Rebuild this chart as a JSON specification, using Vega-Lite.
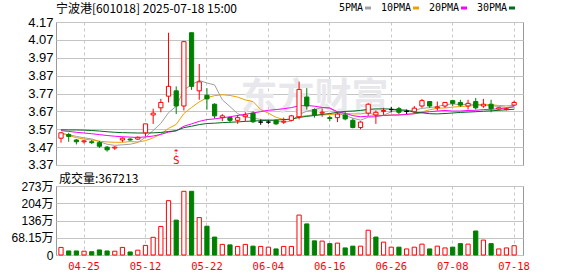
{
  "$schema": "https://vega.github.io/schema/vega-lite/v6.json",
  "padding": {"left": 0, "top": 2, "right": 0, "bottom": 0},
  "background": "white",
  "spacing": 21,
  "bounds": "flush",
  "config": {
    "view": {"stroke": "#999999", "strokeWidth": 1},
    "axis": {"gridColor": "#c4c4c4", "gridWidth": 1, "ticks": false, "domain": false, "labelColor": "#000000", "labelOverlap": false},
    "title": {"fontWeight": "normal", "color": "#000000", "font": "Noto Sans CJK SC", "fontSize": 12, "frame": "group"},
    "font": "Noto Sans CJK SC"
  },
  "datasets": {
    "k": [
      {"d": "04-22", "o": 3.52, "h": 3.552, "l": 3.495, "c": 3.55, "v": 30, "vc": "r", "m5": 3.545, "m10": 3.551, "m20": 3.562, "m30": 3.567},
      {"d": "04-23", "o": 3.54, "h": 3.55, "l": 3.5, "c": 3.53, "v": 16, "vc": "g", "m5": 3.54, "m10": 3.535, "m20": 3.558, "m30": 3.566},
      {"d": "04-24", "o": 3.51, "h": 3.515, "l": 3.485, "c": 3.5, "v": 16, "vc": "g", "m5": 3.53, "m10": 3.523, "m20": 3.553, "m30": 3.566},
      {"d": "04-25", "o": 3.5, "h": 3.51, "l": 3.49, "c": 3.505, "v": 15, "vc": "r", "m5": 3.522, "m10": 3.515, "m20": 3.549, "m30": 3.565},
      {"d": "04-28", "o": 3.5, "h": 3.51, "l": 3.488, "c": 3.495, "v": 13, "vc": "g", "m5": 3.516, "m10": 3.51, "m20": 3.545, "m30": 3.563},
      {"d": "04-29", "o": 3.495, "h": 3.505, "l": 3.465, "c": 3.475, "v": 20, "vc": "g", "m5": 3.501, "m10": 3.503, "m20": 3.54, "m30": 3.56},
      {"d": "04-30", "o": 3.47, "h": 3.476, "l": 3.445, "c": 3.455, "v": 16, "vc": "g", "m5": 3.486, "m10": 3.499, "m20": 3.535, "m30": 3.556},
      {"d": "05-06", "o": 3.465, "h": 3.475, "l": 3.455, "c": 3.47, "v": 15, "vc": "r", "m5": 3.48, "m10": 3.497, "m20": 3.531, "m30": 3.553},
      {"d": "05-07", "o": 3.51, "h": 3.525, "l": 3.498, "c": 3.52, "v": 30, "vc": "r", "m5": 3.483, "m10": 3.497, "m20": 3.528, "m30": 3.551},
      {"d": "05-08", "o": 3.515, "h": 3.52, "l": 3.505, "c": 3.51, "v": 12, "vc": "g", "m5": 3.486, "m10": 3.501, "m20": 3.526, "m30": 3.55},
      {"d": "05-09", "o": 3.515, "h": 3.53, "l": 3.51, "c": 3.525, "v": 19, "vc": "r", "m5": 3.496, "m10": 3.499, "m20": 3.524, "m30": 3.549},
      {"d": "05-12", "o": 3.55, "h": 3.6, "l": 3.53, "c": 3.6, "v": 38, "vc": "r", "m5": 3.525, "m10": 3.506, "m20": 3.527, "m30": 3.549},
      {"d": "05-13", "o": 3.65, "h": 3.685, "l": 3.6, "c": 3.66, "v": 70, "vc": "r", "m5": 3.563, "m10": 3.522, "m20": 3.532, "m30": 3.55},
      {"d": "05-14", "o": 3.69, "h": 3.74, "l": 3.665, "c": 3.72, "v": 113, "vc": "r", "m5": 3.603, "m10": 3.543, "m20": 3.541, "m30": 3.552},
      {"d": "05-15", "o": 3.755, "h": 4.11, "l": 3.72, "c": 3.81, "v": 215, "vc": "r", "m5": 3.663, "m10": 3.575, "m20": 3.554, "m30": 3.557},
      {"d": "05-16", "o": 3.785, "h": 3.81, "l": 3.655, "c": 3.7, "v": 138, "vc": "g", "m5": 3.698, "m10": 3.597, "m20": 3.561, "m30": 3.562},
      {"d": "05-19", "o": 3.7, "h": 4.065, "l": 3.675, "c": 4.06, "v": 252, "vc": "r", "m5": 3.79, "m10": 3.658, "m20": 3.587, "m30": 3.579},
      {"d": "05-20", "o": 4.11, "h": 4.11, "l": 3.79, "c": 3.81, "v": 252, "vc": "g", "m5": 3.82, "m10": 3.692, "m20": 3.6, "m30": 3.587},
      {"d": "05-21", "o": 3.785, "h": 3.935, "l": 3.735, "c": 3.835, "v": 148, "vc": "r", "m5": 3.843, "m10": 3.723, "m20": 3.614, "m30": 3.596},
      {"d": "05-22", "o": 3.76, "h": 3.8, "l": 3.68, "c": 3.74, "v": 114, "vc": "g", "m5": 3.829, "m10": 3.746, "m20": 3.624, "m30": 3.602},
      {"d": "05-23", "o": 3.71, "h": 3.715, "l": 3.63, "c": 3.645, "v": 71, "vc": "g", "m5": 3.818, "m10": 3.758, "m20": 3.628, "m30": 3.604},
      {"d": "05-26", "o": 3.635, "h": 3.655, "l": 3.615, "c": 3.645, "v": 42, "vc": "r", "m5": 3.735, "m10": 3.763, "m20": 3.634, "m30": 3.607},
      {"d": "05-27", "o": 3.635, "h": 3.64, "l": 3.608, "c": 3.62, "v": 40, "vc": "g", "m5": 3.697, "m10": 3.759, "m20": 3.64, "m30": 3.609},
      {"d": "05-28", "o": 3.62, "h": 3.65, "l": 3.6, "c": 3.635, "v": 34, "vc": "r", "m5": 3.657, "m10": 3.75, "m20": 3.647, "m30": 3.611},
      {"d": "05-29", "o": 3.64, "h": 3.665, "l": 3.615, "c": 3.65, "v": 42, "vc": "r", "m5": 3.639, "m10": 3.734, "m20": 3.654, "m30": 3.614},
      {"d": "05-30", "o": 3.66, "h": 3.67, "l": 3.605, "c": 3.612, "v": 35, "vc": "g", "m5": 3.632, "m10": 3.725, "m20": 3.661, "m30": 3.616},
      {"d": "06-03", "o": 3.61, "h": 3.625, "l": 3.595, "c": 3.61, "v": 34, "vc": "r", "m5": 3.625, "m10": 3.68, "m20": 3.669, "m30": 3.618},
      {"d": "06-04", "o": 3.61, "h": 3.62, "l": 3.6, "c": 3.61, "v": 31, "vc": "r", "m5": 3.623, "m10": 3.66, "m20": 3.676, "m30": 3.62},
      {"d": "06-05", "o": 3.62, "h": 3.625, "l": 3.595, "c": 3.6, "v": 24, "vc": "g", "m5": 3.616, "m10": 3.637, "m20": 3.68, "m30": 3.622},
      {"d": "06-06", "o": 3.61, "h": 3.635, "l": 3.6, "c": 3.615, "v": 34, "vc": "r", "m5": 3.609, "m10": 3.624, "m20": 3.685, "m30": 3.624},
      {"d": "06-09", "o": 3.62, "h": 3.65, "l": 3.615, "c": 3.645, "v": 34, "vc": "r", "m5": 3.616, "m10": 3.624, "m20": 3.691, "m30": 3.627},
      {"d": "06-10", "o": 3.64, "h": 3.836, "l": 3.625, "c": 3.793, "v": 158, "vc": "r", "m5": 3.653, "m10": 3.639, "m20": 3.701, "m30": 3.636},
      {"d": "06-11", "o": 3.75, "h": 3.8, "l": 3.68, "c": 3.7, "v": 123, "vc": "g", "m5": 3.671, "m10": 3.647, "m20": 3.703, "m30": 3.642},
      {"d": "06-12", "o": 3.68, "h": 3.687, "l": 3.635, "c": 3.65, "v": 56, "vc": "g", "m5": 3.681, "m10": 3.649, "m20": 3.699, "m30": 3.647},
      {"d": "06-13", "o": 3.66, "h": 3.686, "l": 3.64, "c": 3.665, "v": 55, "vc": "r", "m5": 3.691, "m10": 3.65, "m20": 3.692, "m30": 3.653},
      {"d": "06-16", "o": 3.635, "h": 3.645, "l": 3.615, "c": 3.63, "v": 45, "vc": "g", "m5": 3.688, "m10": 3.652, "m20": 3.689, "m30": 3.658},
      {"d": "06-17", "o": 3.635, "h": 3.665, "l": 3.61, "c": 3.655, "v": 47, "vc": "r", "m5": 3.66, "m10": 3.656, "m20": 3.668, "m30": 3.665},
      {"d": "06-18", "o": 3.65, "h": 3.67, "l": 3.62, "c": 3.628, "v": 28, "vc": "g", "m5": 3.646, "m10": 3.658, "m20": 3.659, "m30": 3.67},
      {"d": "06-19", "o": 3.62, "h": 3.63, "l": 3.575, "c": 3.58, "v": 35, "vc": "g", "m5": 3.632, "m10": 3.656, "m20": 3.646, "m30": 3.672},
      {"d": "06-20", "o": 3.58, "h": 3.615, "l": 3.57, "c": 3.61, "v": 35, "vc": "r", "m5": 3.621, "m10": 3.656, "m20": 3.64, "m30": 3.675},
      {"d": "06-23", "o": 3.66, "h": 3.715, "l": 3.645, "c": 3.71, "v": 98, "vc": "r", "m5": 3.637, "m10": 3.662, "m20": 3.643, "m30": 3.681},
      {"d": "06-24", "o": 3.65, "h": 3.675, "l": 3.6, "c": 3.665, "v": 71, "vc": "g", "m5": 3.639, "m10": 3.649, "m20": 3.644, "m30": 3.684},
      {"d": "06-25", "o": 3.67, "h": 3.69, "l": 3.65, "c": 3.675, "v": 51, "vc": "r", "m5": 3.648, "m10": 3.647, "m20": 3.647, "m30": 3.684},
      {"d": "06-26", "o": 3.68, "h": 3.695, "l": 3.665, "c": 3.68, "v": 31, "vc": "r", "m5": 3.668, "m10": 3.65, "m20": 3.649, "m30": 3.683},
      {"d": "06-27", "o": 3.685, "h": 3.695, "l": 3.655, "c": 3.665, "v": 31, "vc": "g", "m5": 3.679, "m10": 3.65, "m20": 3.65, "m30": 3.678},
      {"d": "06-30", "o": 3.67, "h": 3.68, "l": 3.655, "c": 3.67, "v": 24, "vc": "r", "m5": 3.671, "m10": 3.654, "m20": 3.653, "m30": 3.677},
      {"d": "07-01", "o": 3.668, "h": 3.7, "l": 3.66, "c": 3.688, "v": 31, "vc": "r", "m5": 3.676, "m10": 3.657, "m20": 3.657, "m30": 3.665},
      {"d": "07-02", "o": 3.7, "h": 3.74, "l": 3.69, "c": 3.73, "v": 43, "vc": "r", "m5": 3.687, "m10": 3.667, "m20": 3.663, "m30": 3.662},
      {"d": "07-03", "o": 3.725, "h": 3.728, "l": 3.69, "c": 3.7, "v": 24, "vc": "g", "m5": 3.691, "m10": 3.679, "m20": 3.668, "m30": 3.657},
      {"d": "07-04", "o": 3.69, "h": 3.725, "l": 3.675, "c": 3.695, "v": 35, "vc": "r", "m5": 3.697, "m10": 3.688, "m20": 3.672, "m30": 3.656},
      {"d": "07-07", "o": 3.7, "h": 3.722, "l": 3.69, "c": 3.72, "v": 28, "vc": "r", "m5": 3.707, "m10": 3.689, "m20": 3.675, "m30": 3.658},
      {"d": "07-08", "o": 3.73, "h": 3.735, "l": 3.7, "c": 3.715, "v": 31, "vc": "g", "m5": 3.712, "m10": 3.694, "m20": 3.672, "m30": 3.661},
      {"d": "07-09", "o": 3.72, "h": 3.735, "l": 3.695, "c": 3.705, "v": 45, "vc": "g", "m5": 3.707, "m10": 3.697, "m20": 3.672, "m30": 3.664},
      {"d": "07-10", "o": 3.7, "h": 3.735, "l": 3.68, "c": 3.715, "v": 43, "vc": "r", "m5": 3.71, "m10": 3.7, "m20": 3.675, "m30": 3.666},
      {"d": "07-11", "o": 3.725, "h": 3.745, "l": 3.68, "c": 3.69, "v": 95, "vc": "g", "m5": 3.709, "m10": 3.703, "m20": 3.676, "m30": 3.668},
      {"d": "07-14", "o": 3.7, "h": 3.74, "l": 3.69, "c": 3.71, "v": 59, "vc": "r", "m5": 3.707, "m10": 3.707, "m20": 3.68, "m30": 3.671},
      {"d": "07-15", "o": 3.71, "h": 3.735, "l": 3.665, "c": 3.685, "v": 45, "vc": "g", "m5": 3.701, "m10": 3.707, "m20": 3.682, "m30": 3.673},
      {"d": "07-16", "o": 3.683, "h": 3.695, "l": 3.675, "c": 3.69, "v": 24, "vc": "r", "m5": 3.698, "m10": 3.703, "m20": 3.685, "m30": 3.676},
      {"d": "07-17", "o": 3.68, "h": 3.69, "l": 3.675, "c": 3.685, "v": 28, "vc": "r", "m5": 3.692, "m10": 3.701, "m20": 3.689, "m30": 3.679},
      {"d": "07-18", "o": 3.705, "h": 3.73, "l": 3.7, "c": 3.72, "v": 36.72, "vc": "r", "m5": 3.698, "m10": 3.704, "m20": 3.695, "m30": 3.682}
    ]
  },
  "vconcat": [
    {
      "width": 467,
      "height": 143,
      "data": {"name": "k"},
      "title": {"text": "宁波港[601018] 2025-07-18 15:00", "anchor": "start", "offset": -5, "baseline": "middle"},
      "encoding": {
        "x": {
          "field": "d", "type": "ordinal",
          "scale": {"paddingInner": 0.45, "paddingOuter": 0.6285, "align": 0.3},
          "axis": {"title": null, "labels": false, "grid": true, "gridDash": [3, 3], "gridColor": "#c8c8c8", "bandPosition": 0.5,
                   "values": ["04-25", "05-12", "05-22", "06-04", "06-16", "06-26", "07-08", "07-18"]}
        }
      },
      "layer": [
        {
          "data": {"values": [{"w": "东方财富"}]},
          "mark": {"type": "text", "fontSize": 37, "fontWeight": "bold", "color": "#e8e8ec", "font": "Noto Sans CJK SC", "baseline": "middle"},
          "encoding": {
            "x": {"datum": "06-12", "type": "ordinal"},
            "y": {"datum": 3.74, "type": "quantitative", "scale": {"domain": [3.37, 4.17], "nice": false, "zero": false},
                  "axis": {"title": null, "values": [3.37001, 3.47, 3.57, 3.67, 3.77, 3.87, 3.97, 4.07, 4.16999], "tickCount": 9, "format": ".2f", "labelOverlap": false, "grid": true,
                           "labelFont": "Liberation Sans", "labelFontSize": 13, "labelPadding": 3, "minExtent": 55, "maxExtent": 55}},
            "text": {"field": "w"}
          }
        },
        {
          "transform": [{"fold": ["m5", "m10", "m20", "m30"], "as": ["ma", "val"]}],
          "mark": {"type": "line", "strokeWidth": 1},
          "encoding": {
            "y": {
              "field": "val", "type": "quantitative",
              "scale": {"domain": [3.37, 4.17], "nice": false, "zero": false},
              "axis": {"title": null, "values": [3.37001, 3.47, 3.57, 3.67, 3.77, 3.87, 3.97, 4.07, 4.16999], "tickCount": 9, "format": ".2f", "labelOverlap": false, "grid": true,
                       "labelFont": "Liberation Sans", "labelFontSize": 13, "labelPadding": 3, "minExtent": 55, "maxExtent": 55}
            },
            "color": {
              "field": "ma", "type": "nominal",
              "scale": {"domain": ["m5", "m10", "m20", "m30"], "range": ["#a0a0a0", "#f0a000", "#ff00ff", "#006a1e"]},
              "legend": {
                "orient": "none", "legendX": 307, "legendY": -19, "direction": "horizontal", "title": null,
                "symbolType": "M-1,0H1", "symbolSize": 36, "symbolStrokeWidth": 3,
                "labelFont": "DejaVu Sans Mono", "labelFontSize": 10, "labelColor": "#000000",
                "labelAlign": "right", "labelOffset": -10, "columnPadding": 3,
                "labelExpr": "datum.label == 'm5' ? '5PMA' : datum.label == 'm10' ? '10PMA' : datum.label == 'm20' ? '20PMA' : '30PMA'"
              }
            }
          }
        },
        {
          "mark": {"type": "rule", "strokeWidth": 1},
          "encoding": {
            "y": {"field": "l", "type": "quantitative", "scale": {"domain": [3.37, 4.17], "nice": false, "zero": false},
                  "axis": {"title": null, "values": [3.37001, 3.47, 3.57, 3.67, 3.77, 3.87, 3.97, 4.07, 4.16999], "tickCount": 9, "format": ".2f", "labelOverlap": false, "grid": true,
                           "labelFont": "Liberation Sans", "labelFontSize": 13, "labelPadding": 3, "minExtent": 55, "maxExtent": 55}},
            "y2": {"field": "h"},
            "stroke": {"condition": [{"test": "datum.c > datum.o", "value": "#ff0000"}, {"test": "datum.c < datum.o", "value": "#008000"}], "value": "#000000"}
          }
        },
        {
          "mark": {"type": "bar", "strokeWidth": 1},
          "encoding": {
            "y": {"field": "o", "type": "quantitative", "scale": {"domain": [3.37, 4.17], "nice": false, "zero": false},
                  "axis": {"title": null, "values": [3.37001, 3.47, 3.57, 3.67, 3.77, 3.87, 3.97, 4.07, 4.16999], "tickCount": 9, "format": ".2f", "labelOverlap": false, "grid": true,
                           "labelFont": "Liberation Sans", "labelFontSize": 13, "labelPadding": 3, "minExtent": 55, "maxExtent": 55}},
            "y2": {"field": "c"},
            "fill": {"condition": {"test": "datum.c < datum.o", "value": "#008000"}, "value": "#ffffff"},
            "stroke": {"condition": [{"test": "datum.c > datum.o", "value": "#ff0000"}, {"test": "datum.c < datum.o", "value": "#008000"}], "value": "#000000"}
          }
        },
        {
          "data": {"values": [{"d": "05-16", "t": "S", "a": "⇡"}]},
          "layer": [
            {
              "mark": {"type": "text", "color": "#ff0000", "fontSize": 11, "font": "DejaVu Sans Mono", "baseline": "middle"},
              "encoding": {
                "x": {"field": "d", "type": "ordinal"},
                "y": {"datum": 3.393, "type": "quantitative", "scale": {"domain": [3.37, 4.17], "nice": false, "zero": false},
                      "axis": {"title": null, "values": [3.37001, 3.47, 3.57, 3.67, 3.77, 3.87, 3.97, 4.07, 4.16999], "tickCount": 9, "format": ".2f", "labelOverlap": false, "grid": true,
                               "labelFont": "Liberation Sans", "labelFontSize": 13, "labelPadding": 3, "minExtent": 55, "maxExtent": 55}},
                "text": {"field": "t"}
              }
            },
            {
              "mark": {"type": "text", "color": "#ff0000", "fontSize": 9, "font": "DejaVu Sans", "baseline": "middle"},
              "encoding": {
                "x": {"field": "d", "type": "ordinal"},
                "y": {"datum": 3.437, "type": "quantitative", "scale": {"domain": [3.37, 4.17], "nice": false, "zero": false},
                      "axis": {"title": null, "values": [3.37001, 3.47, 3.57, 3.67, 3.77, 3.87, 3.97, 4.07, 4.16999], "tickCount": 9, "format": ".2f", "labelOverlap": false, "grid": true,
                               "labelFont": "Liberation Sans", "labelFontSize": 13, "labelPadding": 3, "minExtent": 55, "maxExtent": 55}},
                "text": {"field": "a"}
              }
            }
          ]
        }
      ]
    },
    {
      "width": 467,
      "height": 69,
      "data": {"name": "k"},
      "title": {"text": "成交量:367213", "anchor": "start", "offset": -5.5, "dx": 3},
      "mark": {"type": "bar", "strokeWidth": 1},
      "encoding": {
        "x": {
          "field": "d", "type": "ordinal",
          "scale": {"paddingInner": 0.45, "paddingOuter": 0.6285, "align": 0.3},
          "axis": {"title": null, "grid": true, "gridDash": [3, 3], "gridColor": "#c8c8c8", "bandPosition": 0.5, "labelAngle": 0,
                   "labelColor": "#ff0000", "labelFont": "DejaVu Sans Mono", "labelFontSize": 10.5, "labelPadding": 6,
                   "values": ["04-25", "05-12", "05-22", "06-04", "06-16", "06-26", "07-08", "07-18"]}
        },
        "y": {
          "field": "v", "type": "quantitative",
          "scale": {"domain": [0, 273], "nice": false, "zero": true},
          "axis": {"title": null, "values": [0, 68.15, 136, 204, 272.999], "tickCount": 5, "labelOverlap": false, "grid": true,
                   "labelExpr": "datum.value == 0 ? '0' : datum.value > 272 ? '273万' : datum.value + '万'",
                   "labelFont": "Liberation Sans, Noto Sans CJK SC", "labelFontSize": 12, "labelPadding": 3, "minExtent": 55, "maxExtent": 55}
        },
        "fill": {"condition": {"test": "datum.vc == 'g'", "value": "#008000"}, "value": "#ffffff"},
        "stroke": {"condition": {"test": "datum.vc == 'g'", "value": "#008000"}, "value": "#ff0000"}
      }
    }
  ]
}
